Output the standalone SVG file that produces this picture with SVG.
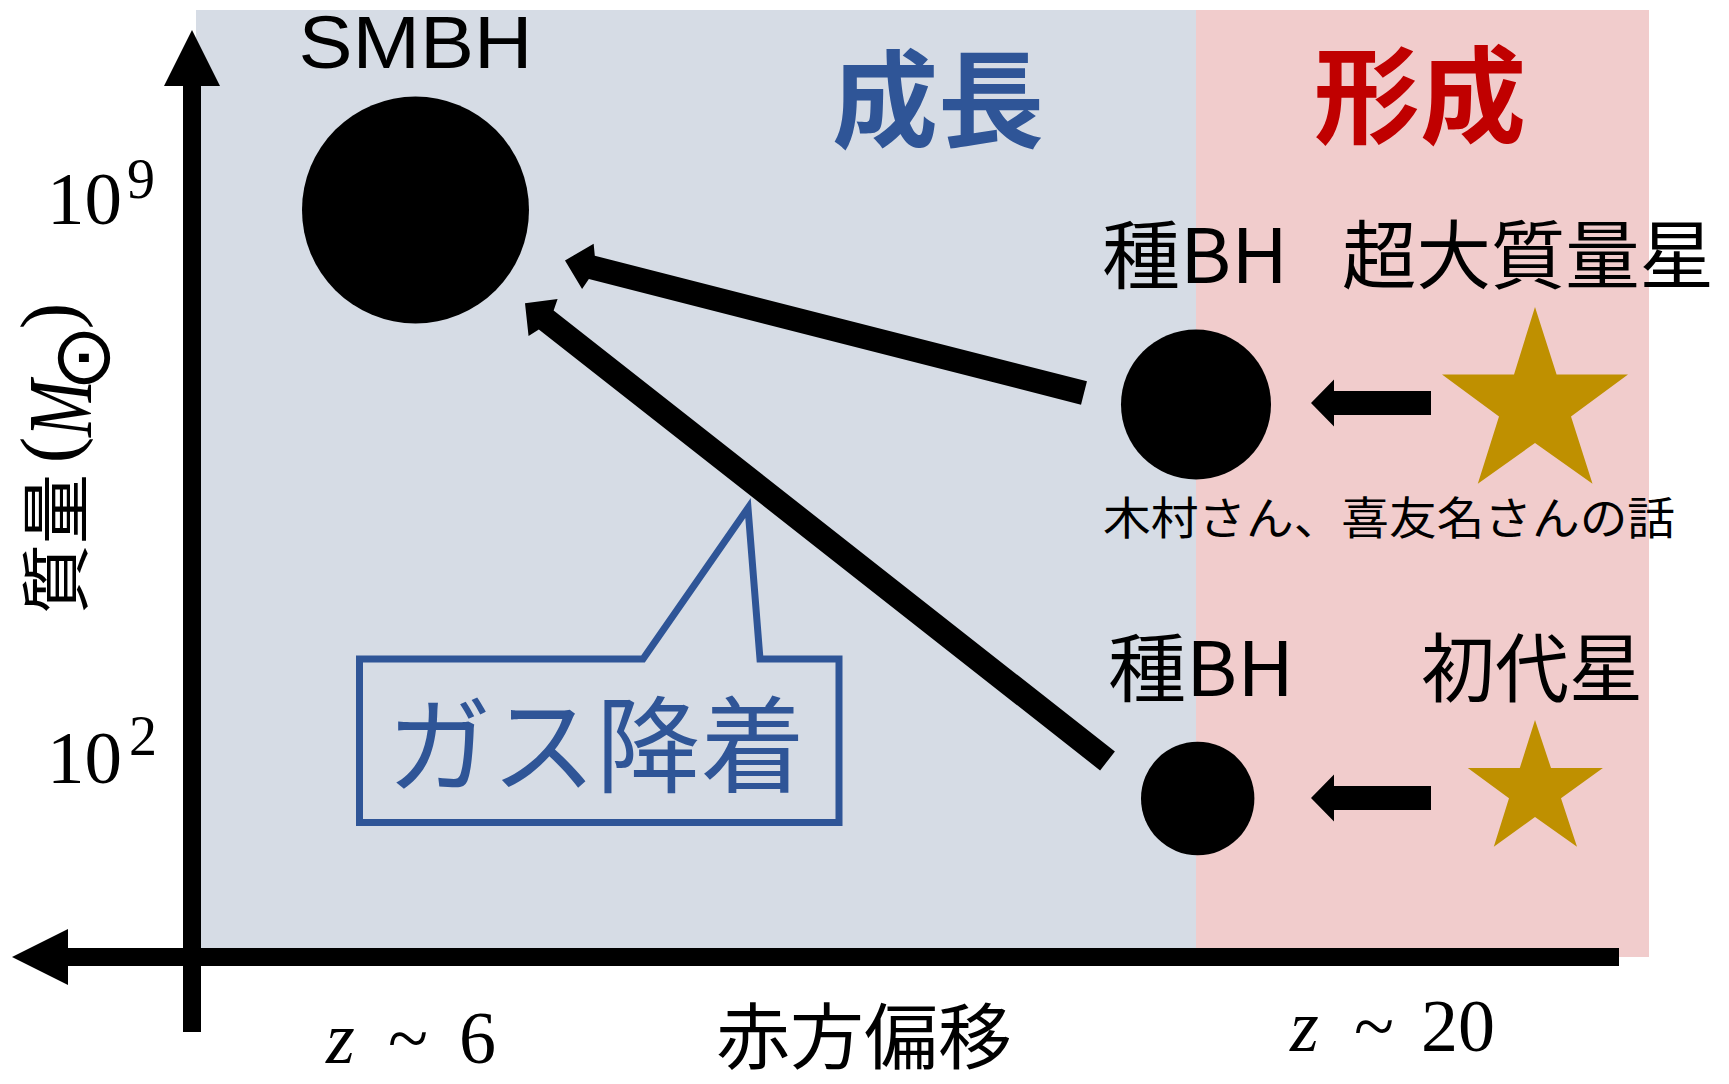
<svg xmlns="http://www.w3.org/2000/svg" width="1729" height="1084" viewBox="0 0 1729 1084">
<style>
.jp{font-family:"Noto Sans CJK JP",sans-serif;}
.sr{font-family:"Liberation Serif","DejaVu Serif",serif;}
.blk{fill:#000000;}
.gold{fill:#BF9000;}
</style>
<rect width="1729" height="1084" fill="#FFFFFF"/>
<g id="regions">
<rect id="growth-bg" x="196" y="10" width="1000" height="947" fill="#D6DCE5"/>
<rect id="formation-bg" x="1196" y="10" width="453" height="947" fill="#F1CCCC"/>
<text id="growth-label" class="jp" x="832" y="139" font-size="106" font-weight="700" fill="#2F5597">成長</text>
<text id="formation-label" class="jp" x="1314" y="135" font-size="106" font-weight="700" fill="#C00000">形成</text>
</g>
<g id="axes">
<rect class="blk" x="183" y="84" width="18" height="948"/>
<polygon class="blk" points="192,30 220,86 164,86"/>
<rect class="blk" x="66" y="948" width="1553" height="18"/>
<polygon class="blk" points="12,957 68,929 68,985"/>
<text class="sr" x="47" y="224" font-size="75">10</text>
<text class="sr" x="127" y="198" font-size="56">9</text>
<text class="sr" x="47" y="783" font-size="75">10</text>
<text class="sr" x="129" y="755" font-size="56">2</text>
<text class="sr" x="326" y="1063" font-size="74"><tspan font-style="italic">z</tspan></text>
<text class="sr" x="388" y="1063" font-size="74">~</text>
<text class="sr" x="459" y="1063" font-size="74">6</text>
<text class="sr" x="1290" y="1051" font-size="74"><tspan font-style="italic">z</tspan></text>
<text class="sr" x="1354" y="1051" font-size="74">~</text>
<text class="sr" x="1421" y="1051" font-size="74">20</text>
<text id="x-label" class="jp" x="716" y="1063" font-size="72" textLength="296" lengthAdjust="spacingAndGlyphs">赤方偏移</text>
<g id="y-label" transform="translate(0,613) rotate(-90)">
<text class="jp" x="-1" y="82" font-size="70">質量</text>
<text class="sr" x="163" y="76" font-size="80" text-anchor="middle">(</text>
<text class="sr" x="176" y="91" font-size="92" font-style="italic" textLength="57" lengthAdjust="spacingAndGlyphs">M</text>
<text x="255" y="109" font-size="80" text-anchor="middle" font-family="DejaVu Sans,sans-serif">⊙</text>
<text class="sr" x="297" y="76" font-size="80" text-anchor="middle">)</text>
</g>
</g>
<g id="callout-gas-accretion">
<path d="M359.5 659 H643 L748 508 L760 659 H839 V822.5 H359.5 Z" fill="none" stroke="#2F5597" stroke-width="7" stroke-linejoin="miter"/>
<text class="jp" x="387" y="784" font-size="105" fill="#2F5597" textLength="418" lengthAdjust="spacingAndGlyphs">ガス降着</text>
</g>
<g id="node-smbh">
<circle class="blk" cx="415.5" cy="210" r="113.5"/>
<text x="298.5" y="68" font-family="Liberation Sans,sans-serif" font-size="74" textLength="234" lengthAdjust="spacingAndGlyphs">SMBH</text>
</g>
<g id="node-seed-bh-heavy">
<circle class="blk" cx="1196" cy="404.5" r="75"/>
<text class="jp" x="1102" y="283" font-size="75" textLength="186" lengthAdjust="spacingAndGlyphs">種BH</text>
</g>
<g id="node-seed-bh-light">
<circle class="blk" cx="1197.7" cy="798.5" r="56.7"/>
<text class="jp" x="1108" y="696" font-size="75" textLength="186" lengthAdjust="spacingAndGlyphs">種BH</text>
</g>
<g id="node-supermassive-star">
<polygon class="gold" points="1535,307 1556.6,374.5 1628,374.5 1571,416.6 1592.5,483.7 1535,443 1477.8,483.7 1499,416.6 1442,374.5 1514,374.5"/>
<text class="jp" x="1342" y="283" font-size="75" textLength="372" lengthAdjust="spacingAndGlyphs">超大質量星</text>
<text class="jp" x="1103" y="535" font-size="45" textLength="572" lengthAdjust="spacingAndGlyphs">木村さん、喜友名さんの話</text>
</g>
<g id="node-pop3-star">
<polygon class="gold" points="1535,720 1551,768 1602.9,768 1561,798.2 1577,846.8 1535,816.9 1493.8,846.8 1509,798.2 1467.8,768 1519.8,768"/>
<text class="jp" x="1421" y="696" font-size="75" textLength="222" lengthAdjust="spacingAndGlyphs">初代星</text>
</g>
<g id="connectors">
<polygon class="blk" points="565,260.5 593.66,243.67 594.81,255.72 1086.97,381.37 1081.03,404.63 588.87,278.98 582.08,289.01"/>
<polygon class="blk" points="525,303.3 557.6,299.03 553.64,310.54 1114.91,751.56 1100.09,770.44 538.82,329.42 528.56,335.99"/>
<polygon class="blk" points="1311,403 1334,379.5 1334,391 1431,391 1431,415 1334,415 1334,426.5"/>
<polygon class="blk" points="1311,798 1334,774.5 1334,786 1431,786 1431,810 1334,810 1334,821.5"/>
</g>
</svg>
